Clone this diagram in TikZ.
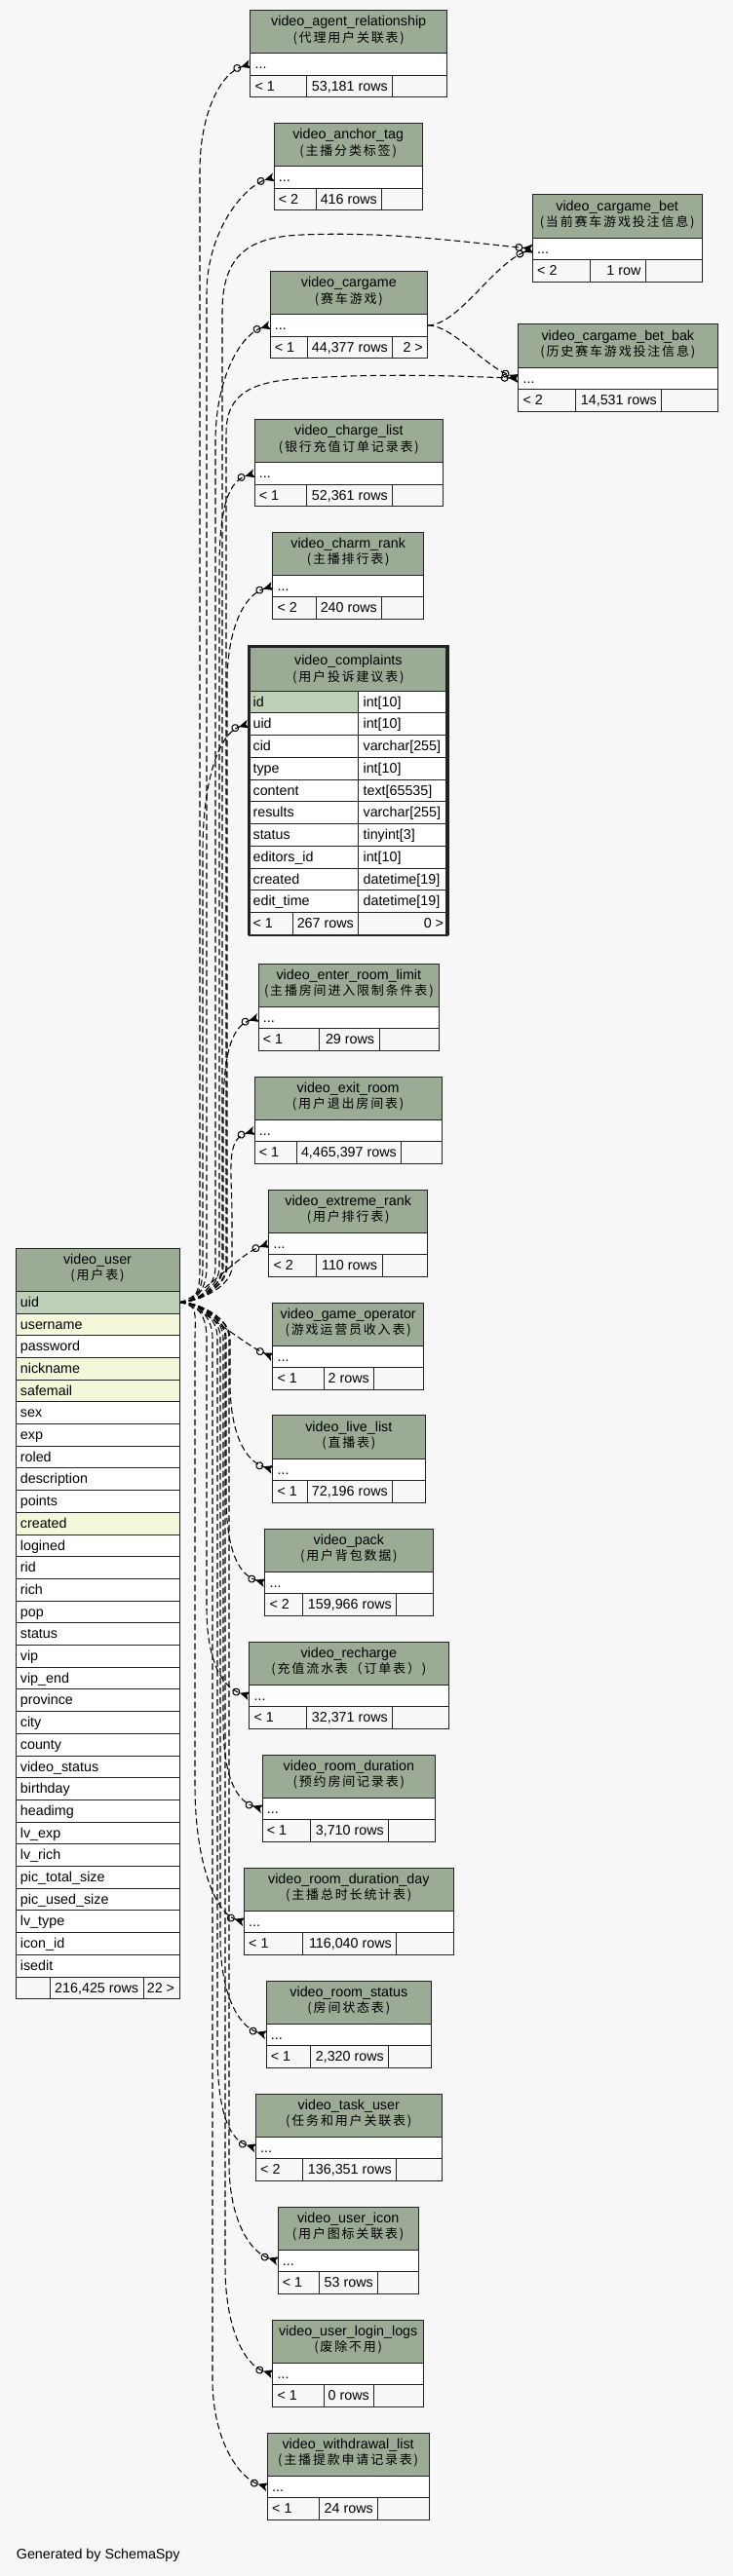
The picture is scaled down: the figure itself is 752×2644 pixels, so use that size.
\documentclass[tikz,border=0pt]{standalone}
\usepackage{fontspec}
\setmainfont{Liberation Sans}
\newfontfamily\cjk{Noto Sans CJK SC}[LetterSpace=14]
\usetikzlibrary{arrows.meta}
\definecolor{bgcol}{HTML}{F7F7F7}
\definecolor{headcol}{HTML}{9BAB96}
\definecolor{pkcol}{HTML}{BED1B8}
\definecolor{idxcol}{HTML}{F4F7DA}
\definecolor{linecol}{HTML}{222222}
\tikzset{
 cellbox/.style={draw=linecol, line width=1pt},
 ttl/.style={anchor=base, inner sep=0pt, font=\fontsize{14.3}{16}\selectfont},
 cjkt/.style={anchor=base, inner sep=0pt, font=\cjk\fontsize{13}{15}\selectfont},
 lt/.style={anchor=base west, inner sep=0pt, font=\fontsize{14.3}{16}\selectfont},
 rt/.style={anchor=base east, inner sep=0pt, font=\fontsize{14.3}{16}\selectfont},
 fk/.style={black, line width=1.05pt, dash pattern=on 6.5pt off 3.5pt,
   -{Circle[open,length=8pt,width=8pt,sep=0pt] Stealth[reversed,length=10pt,width=9pt,inset=2.5pt]}},
}
% header: id, xl, y, xr, title, cjk
\newcommand\thead[6]{%
 \path[cellbox, fill=headcol] (#2,#3) rectangle (#4,{#3+44.3});
 \node[ttl] (#1-name) at ({(#2+#4)/2},{#3+16.5}) {#5};
 \node[cjkt] (#1-cjk) at ({(#2+#4)/2},{#3+32.8}) {#6};}
% footer: id, xl, y, s1, s2, xr, parents, rows, children
\newcommand\tfoot[9]{%
 \path[cellbox, fill=bgcol] (#2,#3) rectangle (#4,{#3+22.6});
 \path[cellbox, fill=bgcol] (#4,#3) rectangle (#5,{#3+22.6});
 \path[cellbox, fill=bgcol] (#5,#3) rectangle (#6,{#3+22.6});
 \node[lt] (#1-par) at ({#2+4.7},{#3+16}) {#7};
 \node[rt] (#1-rows) at ({#5-4.7},{#3+16}) {#8};
 \node[rt] (#1-kids) at ({#6-4.7},{#3+16}) {#9};}
% small table: id, xl, y, xr, s1, s2, title, cjk, {par}{rows}{kids}
\newcommand\smalltbl[9]{%
 \thead{#1}{#2}{#3}{#4}{#7}{#8}
 \path[cellbox, fill=white] (#2,{#3+44.3}) rectangle (#4,{#3+66.9});
 \node[lt] (#1-dots) at ({#2+4.7},{#3+60.5}) {...};
 \tfoot{#1}{#2}{#3+66.9}{#5}{#6}{#4}#9}
% edges: id, lane, H, xt, yt
\newcommand\upedge[5]{%
 \draw[fk] (uid) .. controls (204,1336.6) and (#2,1320) .. (#2,1300) -- (#2,{#5+#3})
   .. controls (#2,{#5+0.45*#3}) and ({#4-30},{#5+9}) .. (#1-in);}
\newcommand\downedge[5]{%
 \draw[fk] (uid) .. controls (204,1336.6) and (#2,1353) .. (#2,1373) -- (#2,{#5-#3})
   .. controls (#2,{#5-0.45*#3}) and ({#4-30},{#5-9}) .. (#1-in);}
\begin{document}
\begin{tikzpicture}[x=1pt,y=-1pt]
\fill[bgcol] (0,0) rectangle (752,2644);
\useasboundingbox (0,0) rectangle (752,2644);
% anchor coordinates
\coordinate (uid) at (184,1336.6);
\coordinate (agent-in) at (256.7,65.9);
\coordinate (anchor-in) at (281,181.9);
\coordinate (bet-in) at (546.3,255.3);
\coordinate (cargame-in) at (277,333.9);
\coordinate (cargame-out) at (438.7,333.9);
\coordinate (betbak-in) at (531.7,388.3);
\coordinate (charge-in) at (261,485.9);
\coordinate (charm-in) at (279.7,601.6);
\coordinate (compl-in) at (254.7,743.1);
\coordinate (enter-in) at (265,1044.6);
\coordinate (exit-in) at (261,1160.6);
\coordinate (extreme-in) at (275.7,1276.6);
\coordinate (gameop-in) at (279.7,1392.6);
\coordinate (live-in) at (279.7,1508.3);
\coordinate (pack-in) at (271.7,1624.6);
\coordinate (recharge-in) at (255.7,1740.6);
\coordinate (rd-in) at (269,1856.6);
\coordinate (day-in) at (250.3,1972.6);
\coordinate (status-in) at (273,2088.6);
\coordinate (task-in) at (262.3,2204.6);
\coordinate (icon-in) at (285,2320.6);
\coordinate (login-in) at (279.7,2436.6);
\coordinate (wd-in) at (274.3,2552.6);
% ---------- edges
\upedge{agent}{205}{110}{256.7}{65.9}
\upedge{anchor}{212}{120}{281}{181.9}
\upedge{cargame}{221}{120}{277}{333.9}
\upedge{charge}{225}{100}{261}{485.9}
\upedge{charm}{233}{100}{279.7}{601.6}
\upedge{compl}{208}{130}{254.7}{743.1}
\upedge{enter}{229}{100}{265}{1044.6}
\upedge{exit}{238}{90}{261}{1160.6}
\draw[fk] (uid) .. controls (204,1336.6) and (228,1320) .. (228,1300) -- (228,320)
  .. controls (228,262) and (255,243) .. (310,241) .. controls (400,237) and (490,250) .. (bet-in);
\draw[fk] (uid) .. controls (204,1336.6) and (232,1320) .. (232,1300) -- (232,445)
  .. controls (232,402) and (260,391) .. (315,388) .. controls (400,383) and (470,386) .. (betbak-in);
\draw[fk] (cargame-out) .. controls (470,334) and (505,272) .. (bet-in);
\draw[fk] (cargame-out) .. controls (465,334) and (495,375) .. (betbak-in);
\draw[fk] (uid) .. controls (205,1333) and (245,1287) .. (extreme-in);
\draw[fk] (uid) .. controls (205,1340) and (250,1380) .. (gameop-in);
\downedge{live}{236}{90}{279.7}{1508.3}
\downedge{pack}{232}{90}{271.7}{1624.6}
\downedge{recharge}{212}{90}{255.7}{1740.6}
\downedge{rd}{229}{90}{269}{1856.6}
\downedge{day}{200}{140}{250.3}{1972.6}
\downedge{status}{226}{100}{273}{2088.6}
\downedge{task}{223}{100}{262.3}{2204.6}
\downedge{icon}{235}{100}{285}{2320.6}
\downedge{login}{231}{110}{279.7}{2436.6}
\downedge{wd}{218}{110}{274.3}{2552.6}
% ---------- small tables
\smalltbl{agent}{256.7}{10.3}{458.7}{314.3}{402.7}{video\_agent\_relationship}{(代理用户关联表)}{{< 1}{53,181 rows}{}}
\smalltbl{anchor}{281}{126.3}{433.3}{324}{391.7}{video\_anchor\_tag}{(主播分类标签)}{{< 2}{416 rows}{}}
\smalltbl{bet}{546.3}{199.7}{720}{605.3}{662.3}{video\_cargame\_bet}{(当前赛车游戏投注信息)}{{< 2}{1 row}{}}
\smalltbl{cargame}{277}{278.3}{438.7}{315}{402.7}{video\_cargame}{(赛车游戏)}{{< 1}{44,377 rows}{2 >}}
\smalltbl{betbak}{531.7}{332.7}{736}{590.7}{678.7}{video\_cargame\_bet\_bak}{(历史赛车游戏投注信息)}{{< 2}{14,531 rows}{}}
\smalltbl{charge}{261}{430.3}{454.7}{314.3}{402.7}{video\_charge\_list}{(银行充值订单记录表)}{{< 1}{52,361 rows}{}}
\smalltbl{charm}{279.7}{546}{434.7}{324}{391.7}{video\_charm\_rank}{(主播排行表)}{{< 2}{240 rows}{}}
\smalltbl{enter}{265}{989}{450.7}{327.7}{389}{video\_enter\_room\_limit}{(主播房间进入限制条件表)}{{< 1}{29 rows}{}}
\smalltbl{exit}{261}{1105}{453.3}{304}{411.7}{video\_exit\_room}{(用户退出房间表)}{{< 1}{4,465,397 rows}{}}
\smalltbl{extreme}{275.7}{1221}{438.7}{324}{392}{video\_extreme\_rank}{(用户排行表)}{{< 2}{110 rows}{}}
\smalltbl{gameop}{279.7}{1337}{434.7}{332}{383.7}{video\_game\_operator}{(游戏运营员收入表)}{{< 1}{2 rows}{}}
\smalltbl{live}{279.7}{1452.7}{436}{315}{402.7}{video\_live\_list}{(直播表)}{{< 1}{72,196 rows}{}}
\smalltbl{pack}{271.7}{1569}{444}{310.7}{406.7}{video\_pack}{(用户背包数据)}{{< 2}{159,966 rows}{}}
\smalltbl{recharge}{255.7}{1685}{460}{314.7}{402.7}{video\_recharge}{(充值流水表（订单表）)}{{< 1}{32,371 rows}{}}
\smalltbl{rd}{269}{1801}{446.7}{318.3}{398.7}{video\_room\_duration}{(预约房间记录表)}{{< 1}{3,710 rows}{}}
\smalltbl{day}{250.3}{1917}{465.3}{310.7}{406.7}{video\_room\_duration\_day}{(主播总时长统计表)}{{< 1}{116,040 rows}{}}
\smalltbl{status}{273}{2033}{442.7}{318.3}{398.7}{video\_room\_status}{(房间状态表)}{{< 1}{2,320 rows}{}}
\smalltbl{task}{262.3}{2149}{453.3}{310.7}{406.7}{video\_task\_user}{(任务和用户关联表)}{{< 2}{136,351 rows}{}}
\smalltbl{icon}{285}{2265}{429.3}{327.7}{387.7}{video\_user\_icon}{(用户图标关联表)}{{< 1}{53 rows}{}}
\smalltbl{login}{279.7}{2381}{434.7}{332}{383.7}{video\_user\_login\_logs}{(废除不用)}{{< 1}{0 rows}{}}
\smalltbl{wd}{274.3}{2497}{440}{327.7}{387.7}{video\_withdrawal\_list}{(主播提款申请记录表)}{{< 1}{24 rows}{}}
% ---------- video_complaints
\path[cellbox, fill=headcol] (254.7,662.8) rectangle (460,709);
\node[ttl] (compl-name) at (357.35,682.5) {video\_complaints};
\node[cjkt] (compl-cjk) at (357.35,699.3) {(用户投诉建议表)};
\foreach \fn/\ft [count=\i from 0] in {id/int[10],uid/int[10],cid/varchar[255],type/int[10],content/text[65535],results/varchar[255],status/tinyint[3],editors\_id/int[10],created/datetime[19],edit\_time/datetime[19]}{
  \ifnum\i=0
    \path[cellbox, fill=pkcol] (254.7,{709+\i*22.75}) rectangle (367.7,{709+(\i+1)*22.75});
  \else
    \path[cellbox, fill=white] (254.7,{709+\i*22.75}) rectangle (367.7,{709+(\i+1)*22.75});
  \fi
  \path[cellbox, fill=white] (367.7,{709+\i*22.75}) rectangle (460,{709+(\i+1)*22.75});
  \node[lt] (compl-c\i) at (259.4,{709+\i*22.75+16}) {\fn};
  \node[lt] (compl-t\i) at (372.4,{709+\i*22.75+16}) {\ft};
}
\tfoot{compl}{254.7}{936.5}{300}{367.7}{460}{< 1}{267 rows}{0 >}
\draw[linecol, line width=2.6pt] (256,664.1) rectangle (458.7,959.9);
% ---------- video_user
\thead{user}{16}{1281}{184}{video\_user}{(用户表)}
\foreach \fn/\fc [count=\i from 0] in {uid/pkcol,username/idxcol,password/white,nickname/idxcol,safemail/idxcol,sex/white,exp/white,roled/white,description/white,points/white,created/idxcol,logined/white,rid/white,rich/white,pop/white,status/white,vip/white,vip\_end/white,province/white,city/white,county/white,video\_status/white,birthday/white,headimg/white,lv\_exp/white,lv\_rich/white,pic\_total\_size/white,pic\_used\_size/white,lv\_type/white,icon\_id/white,isedit/white}{
  \path[cellbox, fill=\fc] (16,{1325.3+\i*22.7}) rectangle (184,{1325.3+(\i+1)*22.7});
  \node[lt] (user-r\i) at (20.7,{1325.3+\i*22.7+16}) {\fn};
}
\tfoot{user}{16}{2029}{51}{147}{184}{}{216,425 rows}{22 >}
% ---------- credit
\node[lt] (gen) at (16.7,2626.7) {Generated by SchemaSpy};
\end{tikzpicture}
\end{document}
